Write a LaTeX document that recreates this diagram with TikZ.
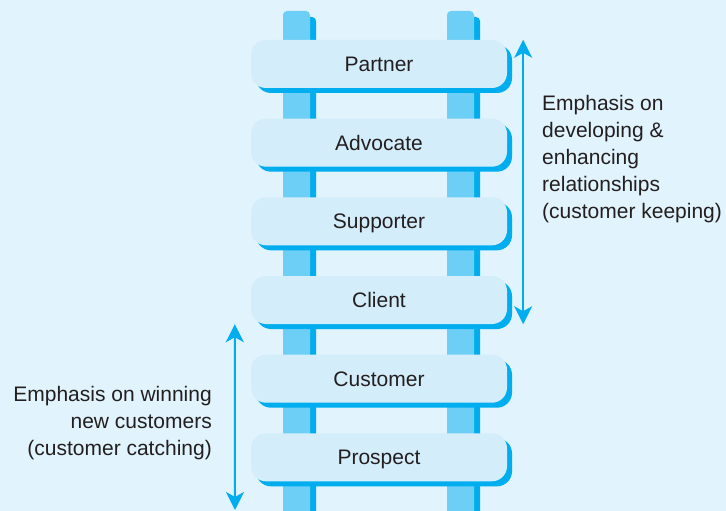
\documentclass[tikz,border=0pt]{standalone}
\usepackage{xcolor}
\usepackage{fontspec}
\setmainfont{Liberation Sans}
\usetikzlibrary{shadows,arrows.meta}

\definecolor{bgblue}{HTML}{E1F3FC}
\definecolor{rungblue}{HTML}{D4EDFA}
\definecolor{railblue}{HTML}{6DCFF6}
\definecolor{deepblue}{HTML}{00AEEF}
\definecolor{inkgrey}{HTML}{231F20}

\begin{document}
\begin{tikzpicture}[x=1pt,y=-1pt]
			\tikzstyle{rail} = [fill=railblue, rounded corners=4pt, minimum width=27pt, minimum height=509pt, inner sep=0pt, drop shadow={shadow xshift=6pt, shadow yshift=-6pt, fill=deepblue, opacity=1}]
			\tikzstyle{rung} = [fill=rungblue, rounded corners=15pt, minimum width=256pt, minimum height=48pt, inner sep=0pt, text height=15pt, text depth=0pt, text=inkgrey, font=\fontsize{21}{27}\selectfont, drop shadow={shadow xshift=5pt, shadow yshift=-5pt, fill=deepblue, opacity=1}]
			\tikzstyle{note} = [inner sep=0pt, text=inkgrey, font=\fontsize{21}{27}\selectfont]
			\tikzset{span/.style = {<->, >={Stealth[length=18pt,width=18pt,inset=5pt]}, draw=deepblue, line width=2pt}}
			
			\fill[bgblue, use as bounding box] (0,0) rectangle (726,511);
			
			\node[rail](leftrail) at (296.5,265.5) {};
			\node[rail](rightrail) at (460.5,265.5) {};
			
			\node[rung](partner) at (379,64) {Partner};
			\node[rung](advocate) at (379,142.7) {Advocate};
			\node[rung](supporter) at (379,221.3) {Supporter};
			\node[rung](client) at (379,300) {Client};
			\node[rung](customer) at (379,378.7) {Customer};
			\node[rung](prospect) at (379,457.3) {Prospect};
			
			\draw[span]([xshift=16pt]partner.north east) to ([xshift=16pt]client.south east);
			\node[note, anchor=north west, align=left](keeping) at (542,95) {Emphasis on\\developing \&\\enhancing\\relationships\\(customer keeping)};
			
			\coordinate (catchend) at (235,510);
			\draw[span]([xshift=-16pt]client.south west) to (catchend);
			\node[note, anchor=north east, align=right](catching) at (212,386) {Emphasis on winning\\new customers\\(customer catching)};
			
			\end{tikzpicture}
\end{document}
